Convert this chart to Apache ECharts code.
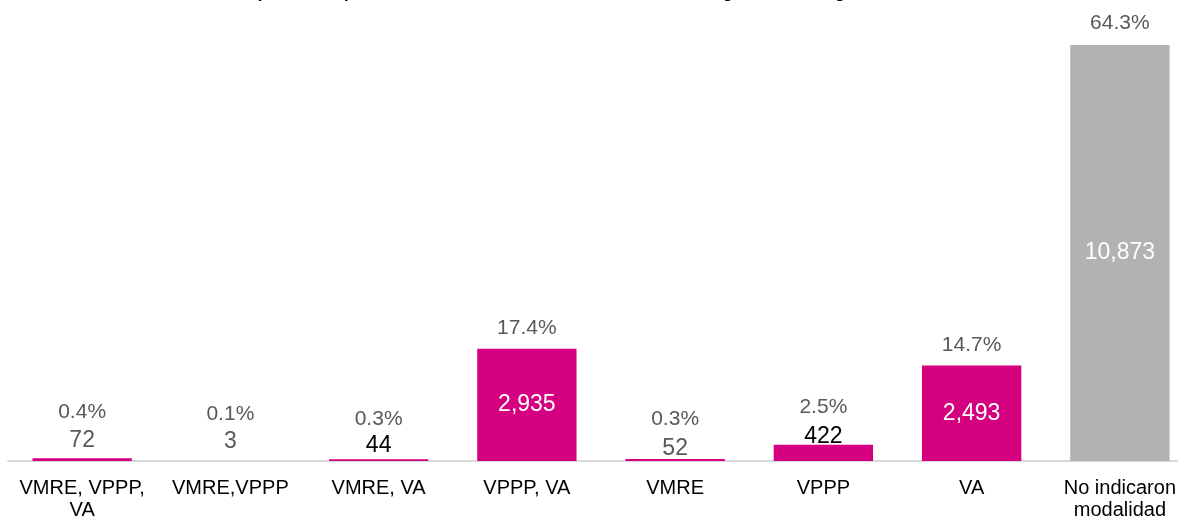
<!DOCTYPE html>
<html>
<head>
    <meta charset="utf-8"/>
    <title>Modalidades</title>
    <style>
        html, body { margin: 0; padding: 0; background: #fff; }
        #main { width: 1178px; height: 517px; }
    </style>
</head>
<body>
<div id="main"></div>
<script src="https://cdn.jsdelivr.net/npm/echarts@6/dist/echarts.min.js"></script>
<script>
    // datos
    var categorias = ['VMRE, VPPP,\nVA', 'VMRE,VPPP', 'VMRE, VA', 'VPPP, VA', 'VMRE', 'VPPP', 'VA', 'No indicaron\nmodalidad'];
    var personas = [72, 3, 44, 2935, 52, 422, 2493, 10873];
    var porcentajes = ['0.4%', '0.1%', '0.3%', '17.4%', '0.3%', '2.5%', '14.7%', '64.3%'];

    var rosa = '#D5007F';
    var gris = '#B2B2B2';
    var colores = [rosa, rosa, rosa, rosa, rosa, rosa, rosa, gris];

    // etiquetas del conteo: dentro de la barra para las grandes, arriba para las chicas
    var etiquetaConteo = [
        {position: 'top', distance: 6, color: '#595959'},
        {position: 'top', distance: 8, color: '#595959'},
        {position: 'top', distance: 2, color: '#000'},
        {position: 'inside', color: '#fff'},
        {position: 'top', distance: -1, color: '#595959'},
        {position: 'top', distance: -3, color: '#000'},
        {position: 'inside', color: '#fff'},
        {position: 'inside', color: '#fff'}
    ];
    var distPorcentaje = [36, 36, 30, 10, 29, 27, 10, 11];

    var serieConteo = personas.map(function (v, i) {
        return {
            value: v,
            itemStyle: {color: colores[i]},
            label: Object.assign({show: true, fontSize: 23, formatter: v.toLocaleString('en-US')}, etiquetaConteo[i])
        };
    });
    var seriePorc = personas.map(function (v, i) {
        return {
            value: v,
            label: {show: true, position: 'top', distance: distPorcentaje[i], formatter: porcentajes[i]}
        };
    });

    var option = {
        animation: false,
        title: {
            text: 'Número de personas que manifestaron interés de ser atendidas en alguna de las siguientes modalidades',
            left: 'center',
            top: -20,
            textStyle: {fontFamily: 'Liberation Sans', fontSize: 17, fontWeight: 'bold', color: '#000'}
        },
        textStyle: {fontFamily: 'Liberation Sans'},
        grid: {left: 8, right: -16, top: 45, bottom: 56, containLabel: false, outerBoundsMode: 'none'},
        xAxis: {
            type: 'category',
            data: categorias,
            axisLine: {lineStyle: {color: '#D9D9D9', width: 2}},
            axisTick: {show: false},
            axisLabel: {color: '#000', fontSize: 20, lineHeight: 22, margin: 16, interval: 0}
        },
        yAxis: {
            type: 'value',
            min: 0,
            max: 10873,
            show: false,
            splitLine: {show: false}
        },
        series: [
            {
                type: 'bar',
                barWidth: '67%',
                barGap: '-100%',
                data: serieConteo,
                label: {fontFamily: 'Liberation Sans'},
                z: 2
            },
            {
                type: 'bar',
                barWidth: '67%',
                barGap: '-100%',
                itemStyle: {color: 'rgba(0,0,0,0)'},
                label: {color: '#595959', fontSize: 21, fontFamily: 'Liberation Sans'},
                data: seriePorc,
                z: 3,
                silent: true
            }
        ]
    };

    var chart = echarts.init(document.getElementById('main'));
    chart.setOption(option);
</script>
</body>
</html>
